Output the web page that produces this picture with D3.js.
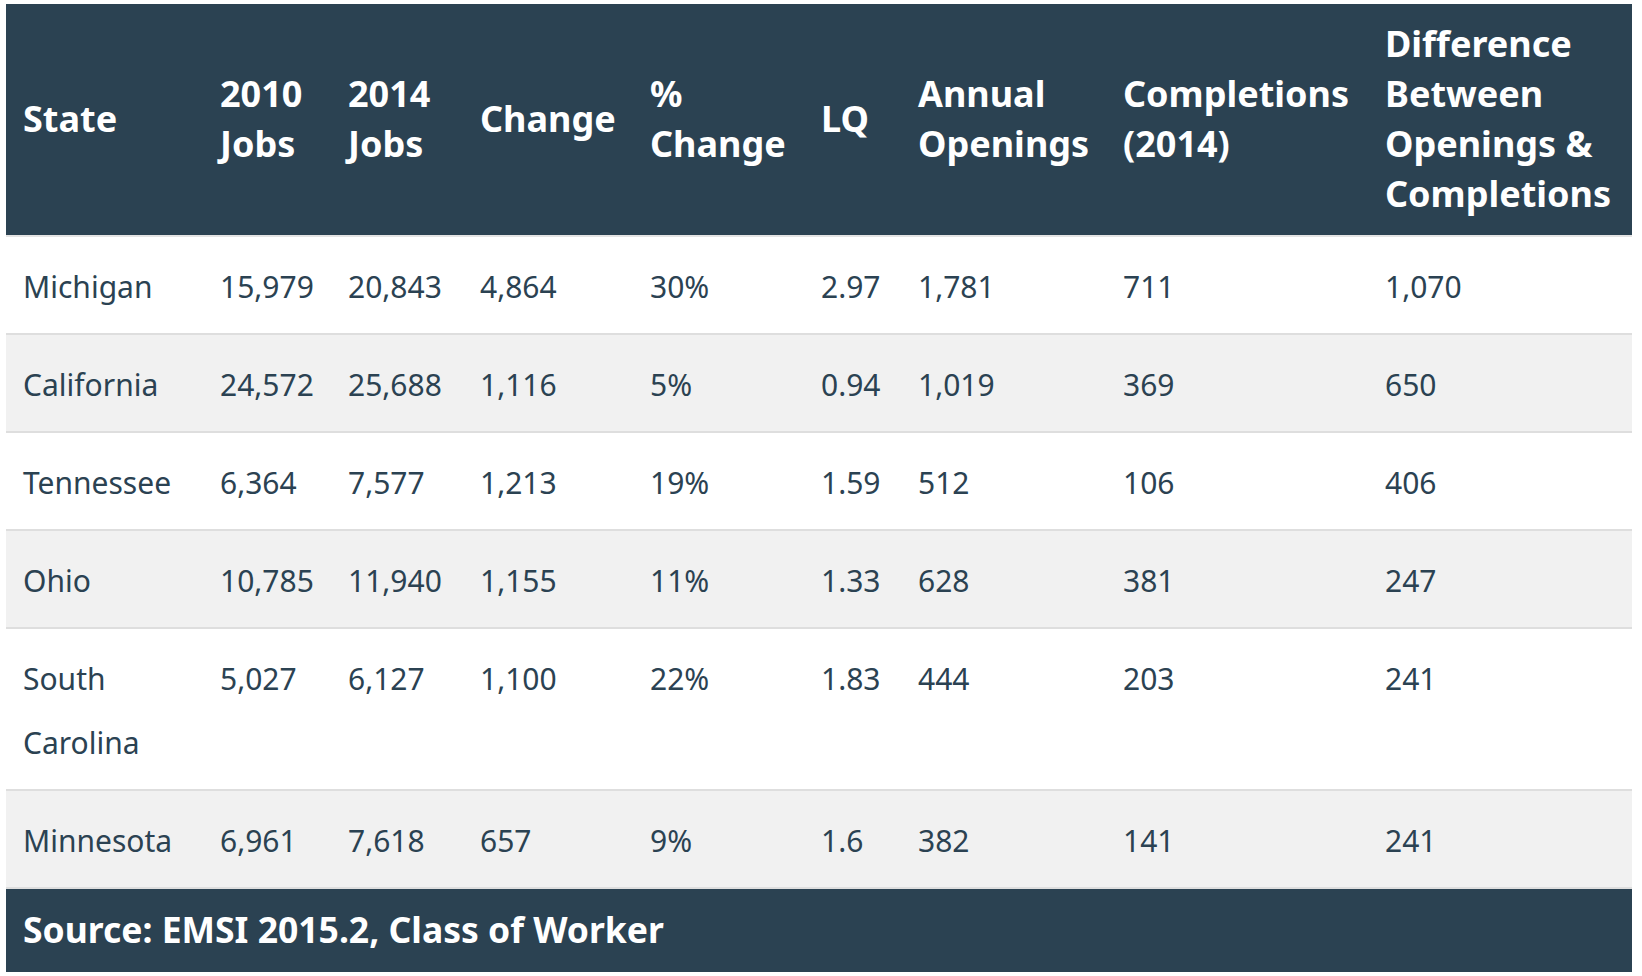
<!DOCTYPE html>
<html>
<head>
<meta charset="utf-8">
<script src="https://cdn.jsdelivr.net/npm/d3@7"></script>
<style>
  html, body { margin: 0; padding: 0; background: #fff; }
  svg { display: block; }
</style>
</head>
<body>
<svg id="chart" width="1642" height="976"></svg>
<script>
// ---- data ----
const states      = ["Michigan", "California", "Tennessee", "Ohio", "South Carolina", "Minnesota"];
const jobs2010    = [15979, 24572, 6364, 10785, 5027, 6961];
const jobs2014    = [20843, 25688, 7577, 11940, 6127, 7618];
const jobChange   = [4864, 1116, 1213, 1155, 1100, 657];
const pctChange   = [30, 5, 19, 11, 22, 9];
const lq          = [2.97, 0.94, 1.59, 1.33, 1.83, 1.6];
const openings    = [1781, 1019, 512, 628, 444, 382];
const completions = [711, 369, 106, 381, 203, 141];
const difference  = [1070, 650, 406, 247, 241, 241];
const headerLabels = [
  ["State"], ["2010", "Jobs"], ["2014", "Jobs"], ["Change"], ["%", "Change"], ["LQ"],
  ["Annual", "Openings"], ["Completions", "(2014)"],
  ["Difference", "Between", "Openings &", "Completions"]
];
const sourceNote = "Source: EMSI 2015.2, Class of Worker";

// ---- layout ----
const tableLeft = 6, tableRight = 1632, tableTop = 4;
const headerH = 231;
const headBorder = 2;
const colKeys = d3.range(headerLabels.length);
const colStarts = [23, 220, 348, 480, 650, 821, 918, 1123, 1385];
const x = d3.scaleOrdinal().domain(colKeys).range(colStarts);
const dark = "#2b4252";
const headSize = 36, headLine = 50;
const bodySize = 30, bodyLine = 64;
const padTop = 18, padBottom = 16;
const footerH = 83;
const font = "'Noto Sans', 'Open Sans', sans-serif";

const fmt = d3.format(",");
const rows = states.map((s, i) => [
  s, fmt(jobs2010[i]), fmt(jobs2014[i]), fmt(jobChange[i]), pctChange[i] + "%",
  String(lq[i]), fmt(openings[i]), fmt(completions[i]), fmt(difference[i])
]);

const svg = d3.select("#chart");

// measuring helper for wrapping
const measure = svg.append("text").attr("font-family", font).attr("font-size", bodySize).attr("visibility", "hidden");
function textW(t) { measure.text(t); return measure.node().getComputedTextLength(); }
function wrap(t, maxW) {
  const words = t.split(" ");
  const lines = [];
  let cur = "";
  words.forEach(w => {
    const test = cur ? cur + " " + w : w;
    if (cur && textW(test) > maxW) { lines.push(cur); cur = w; } else cur = test;
  });
  lines.push(cur);
  return lines;
}

const cellLines = rows.map(r => r.map((v, j) => {
  const maxW = (j + 1 < colStarts.length ? colStarts[j + 1] : tableRight) - colStarts[j] - 14;
  return wrap(v, maxW);
}));
measure.remove();

// row positions
let yCur = tableTop + headerH + headBorder;
const rowY = [], rowH = [];
cellLines.forEach(cl => {
  const n = d3.max(cl, c => c.length);
  const h = padTop + padBottom + n * bodyLine;
  rowY.push(yCur); rowH.push(h);
  yCur += h;
});
const footerY = yCur;

// header
svg.append("rect").attr("x", tableLeft).attr("y", tableTop)
  .attr("width", tableRight - tableLeft).attr("height", headerH).attr("fill", dark);
svg.append("rect").attr("x", tableLeft).attr("y", tableTop + headerH)
  .attr("width", tableRight - tableLeft).attr("height", headBorder).attr("fill", "#e4e4e4");

const headCenter = tableTop + headerH / 2;
const hg = svg.append("g").attr("font-family", font).attr("font-weight", 700)
  .attr("font-size", headSize).attr("fill", "#fff");
headerLabels.forEach((lines, j) => {
  const t = hg.append("text").attr("x", x(j));
  const first = headCenter - (lines.length - 1) * headLine / 2 + 0.36 * headSize;
  lines.forEach((ln, k) => {
    t.append("tspan").attr("x", x(j)).attr("y", first + k * headLine).text(ln);
  });
});

// rows
const rg = svg.append("g").selectAll("g.row").data(rows).join("g").attr("class", "row");
rg.append("rect")
  .attr("x", tableLeft).attr("y", (d, i) => rowY[i])
  .attr("width", tableRight - tableLeft).attr("height", (d, i) => rowH[i])
  .attr("fill", (d, i) => i % 2 === 1 ? "#f1f1f1" : "#ffffff");
rg.append("rect")
  .attr("x", tableLeft).attr("y", (d, i) => rowY[i] + rowH[i] - 2)
  .attr("width", tableRight - tableLeft).attr("height", 2)
  .attr("fill", "#dedede");
rg.each(function(d, i) {
  const g = d3.select(this).append("g").attr("font-family", font)
    .attr("font-size", bodySize).attr("fill", dark);
  cellLines[i].forEach((lines, j) => {
    const t = g.append("text").attr("x", x(j));
    lines.forEach((ln, k) => {
      t.append("tspan").attr("x", x(j))
        .attr("y", rowY[i] + padTop + bodyLine / 2 + k * bodyLine + 0.36 * bodySize)
        .text(ln);
    });
  });
});

// footer
svg.append("rect").attr("x", tableLeft).attr("y", footerY)
  .attr("width", tableRight - tableLeft).attr("height", footerH).attr("fill", dark);
svg.append("text").attr("x", x(0)).attr("y", footerY + footerH / 2 + 0.36 * 35.5)
  .attr("font-family", font).attr("font-weight", 700).attr("font-size", 35.5)
  .attr("fill", "#fff").text(sourceNote);
</script>
</body>
</html>
